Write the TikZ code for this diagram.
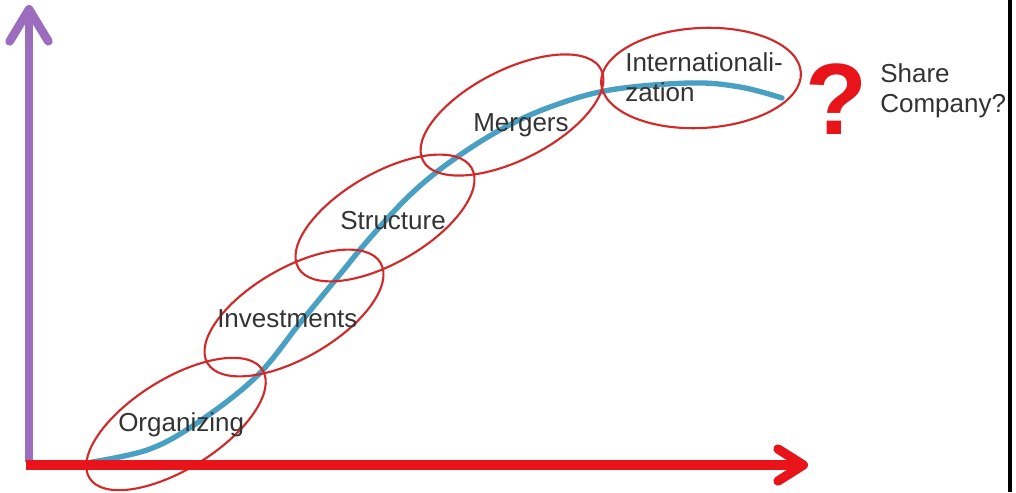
\documentclass[tikz,border=0pt]{standalone}
\usepackage{fontspec}
\setmainfont{Liberation Sans}
\usetikzlibrary{arrows.meta}

\definecolor{axisred}{HTML}{E8141A}
\definecolor{axispurple}{HTML}{9C6DBE}
\definecolor{curveblue}{HTML}{4AA0C2}
\definecolor{ringred}{HTML}{D22A2A}
\definecolor{labelgray}{HTML}{333333}

\tikzset{
  axisline/.style={line width=6.5pt, -{Straight Barb[length=19pt,width=24pt,round]}},
  growth/.style={curveblue, line width=4pt, line cap=round},
  ring/.style={ringred, line width=1.6pt},
  stagelabel/.style={anchor=base west, inner sep=0pt, text=labelgray,
    font=\fontsize{19.5}{22.5}\selectfont},
  bigquestion/.style={anchor=base, inner sep=0pt, text=axisred,
    font=\fontsize{76}{76}\selectfont\bfseries}
}

\begin{document}
\begin{tikzpicture}[x=0.75pt, y=0.75pt]
  \useasboundingbox (0,0) rectangle (1016,492);

  % growth curve
  \draw[growth] plot[smooth, tension=0.6] coordinates {
    (92,30) (150,43) (200,71) (257,116) (300,169) (337,214) (370,254)
    (410,297) (450,330) (500,362) (550,385) (610,402) (690,409)
    (740,405) (782,394)};

  % stage rings
  \draw[ring, rotate around={32:(176,68)}]  (176,68)  ellipse [x radius=102, y radius=45];
  \draw[ring, rotate around={30:(294,179)}] (294,179) ellipse [x radius=100, y radius=45];
  \draw[ring, rotate around={30:(385,274)}] (385,274) ellipse [x radius=100, y radius=45];
  \draw[ring, rotate around={27:(512,377)}] (512,377) ellipse [x radius=100, y radius=45];
  \draw[ring, rotate around={3:(701,414)}]  (701,414) ellipse [x radius=100, y radius=50];

  % axes
  \coordinate (yfoot) at (29,30);
  \coordinate (ytip)  at (29,487);
  \coordinate (xfoot) at (26,27);
  \coordinate (xtip)  at (808,27);
  \draw[axispurple, line width=6.5pt, -{Straight Barb[length=24pt,width=29pt,round]}] (yfoot) -- (ytip);
  \draw[axisline, axisred, line width=7pt] (xfoot) -- (xtip);

  % labels
  \node[stagelabel] (organizing)  at (118,60)  {Organizing};
  \node[stagelabel] (investments) at (217,164) {Investments};
  \node[stagelabel] (structure)   at (340,262) {Structure};
  \node[stagelabel] (mergers)     at (473,360) {Mergers};
  \node[stagelabel] (intl1)       at (625,420) {Internationali-};
  \node[stagelabel] (intl2)       at (625,390) {zation};
  \node[bigquestion] (qmark)      at (836,357) {?};
  \node[stagelabel] (share)       at (880,409) {Share};
  \node[stagelabel] (company)     at (880,379) {Company?};

  % frame edge on the right
  \fill[black] (1008,0) rectangle (1012,492);
\end{tikzpicture}
\end{document}
